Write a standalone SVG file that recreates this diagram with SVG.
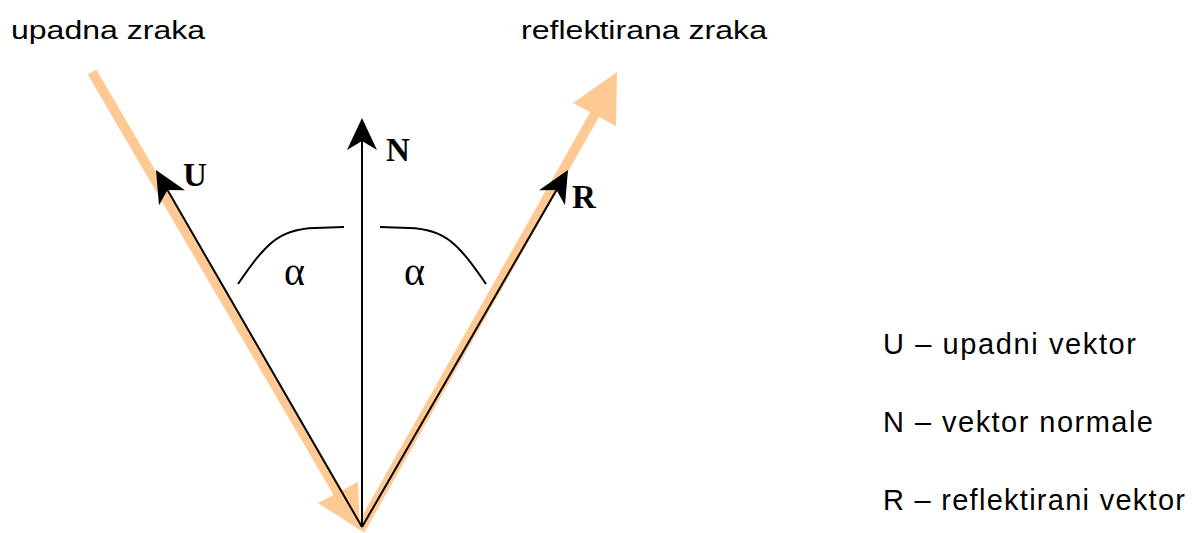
<svg xmlns="http://www.w3.org/2000/svg" width="1192" height="533" viewBox="0 0 1192 533">
<style>
.ray{fill:none;stroke:#FFC994;stroke-width:10;stroke-linecap:butt}
.rayhead{fill:#FFC994;stroke:none}
.vec{fill:none;stroke:#000;stroke-width:2}
.arc{fill:none;stroke:#000;stroke-width:2}
.lbl{font-family:"Liberation Sans",Arial,sans-serif;font-size:26px;fill:#000}
.leg{font-family:"Liberation Sans",Arial,sans-serif;font-size:29px;fill:#000}
.vl{font-family:"Liberation Serif","Times New Roman",serif;font-size:33px;font-weight:bold;fill:#000}
.al{font-family:"Liberation Serif","Times New Roman",serif;font-size:40px;fill:#000}
</style>
<defs>
<marker id="ah" markerUnits="userSpaceOnUse" viewBox="-34 -17 36 34" markerWidth="36" markerHeight="34" refX="-10" refY="0" orient="auto">
<path d="M0,0 L-32,-15 L-23,0 L-32,15 Z" fill="#000"/>
</marker>
</defs>
<g id="incident-ray">
<path class="ray" d="M92,72 L340,496"/>
<polygon class="rayhead" points="318,503 358,482 360,530"/>
</g>
<g id="reflected-ray">
<path class="ray" d="M360,530 L596,112"/>
<polygon class="rayhead" points="617,72 573,103 616,126"/>
</g>
<g id="connectors">
<path id="vecU" class="vec" d="M362,527 L161,178.7" marker-end="url(#ah)"/>
<path id="vecN" class="vec" d="M362,527 L362,128" marker-end="url(#ah)"/>
<path id="vecR" class="vec" d="M362,527 L563,178.7" marker-end="url(#ah)"/>
</g>
<g id="angle-left">
<path class="arc" d="M238,284 C265,245 278,229 315,228 L344,227"/>
<text class="al" x="284" y="285">α</text>
</g>
<g id="angle-right">
<path class="arc" d="M486,284 C459,245 446,229 409,228 L380,227"/>
<text class="al" x="404" y="285">α</text>
</g>
<g id="label-U"><text class="vl" x="183" y="186">U</text></g>
<g id="label-N"><text class="vl" x="386" y="161">N</text></g>
<g id="label-R"><text class="vl" x="572" y="208">R</text></g>
<g id="title-incident"><text class="lbl" x="11" y="39" textLength="194" lengthAdjust="spacingAndGlyphs">upadna zraka</text></g>
<g id="title-reflected"><text class="lbl" x="521" y="39" textLength="246" lengthAdjust="spacingAndGlyphs">reflektirana zraka</text></g>
<g id="legend">
<text class="leg" x="883" y="354" textLength="253" lengthAdjust="spacing">U – upadni vektor</text>
<text class="leg" x="883" y="432" textLength="270" lengthAdjust="spacing">N – vektor normale</text>
<text class="leg" x="883" y="510" textLength="302" lengthAdjust="spacing">R – reflektirani vektor</text>
</g>
</svg>
